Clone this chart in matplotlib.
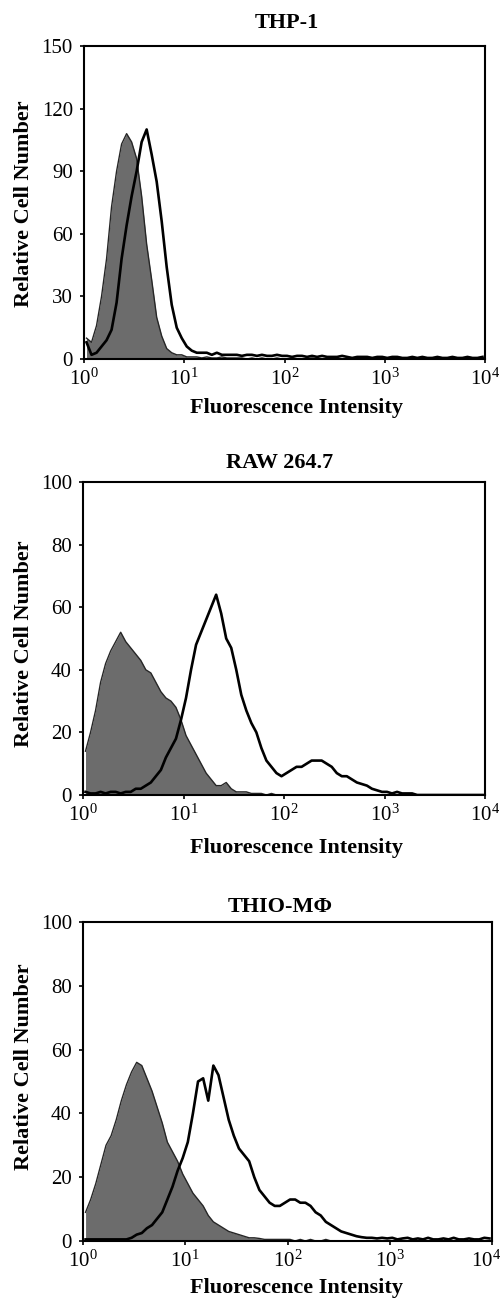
# Flow cytometry histograms: isotype control (grey fill) vs stained (black line)

import numpy as np
import matplotlib.pyplot as plt
from matplotlib.transforms import ScaledTranslation

plt.rcParams['font.family'] = ['Liberation Serif', 'DejaVu Serif']
plt.rcParams['mathtext.fontset'] = 'custom'
plt.rcParams['mathtext.rm'] = 'Liberation Serif'

# channel grid: 80 bins of 0.05 decade from 10^0 to 10^4
log_edges = np.linspace(0, 4, 81)
centers = 10 ** (log_edges[:-1] + 0.025)

# THP-1
thp1_ctrl = [10, 8, 16, 30, 48, 73, 90, 103, 108, 104,
             96, 78, 55, 38, 20, 11, 5, 3, 2, 2,
             1, 1, 1, 0.5, 1, 0.5, 0.5, 1, 0.5, 0.5,
             0.5, 0.5, 0, 0.5, 0, 0.5, 0, 0, 0.5, 0,
             0, 0.5, 0, 0, 0, 0.5, 0, 0, 0, 0,
             0, 0, 0, 0, 0, 0, 0, 0, 0, 0,
             0, 0, 0, 0, 0, 0, 0, 0, 0, 0,
             0, 0, 0, 0, 0, 0, 0, 0, 0, 0]
thp1_stain = [8, 2, 3, 6, 9, 14, 27, 48, 64, 78,
              90, 104, 110, 98, 85, 66, 44, 26, 15, 10,
              6, 4, 3, 3, 3, 2, 3, 2, 2, 2,
              2, 1.5, 2, 2, 1.5, 2, 1.5, 1.5, 2, 1.5,
              1.5, 1, 1.5, 1.5, 1, 1.5, 1, 1.5, 1, 1,
              1, 1.5, 1, 0.5, 1, 1, 1, 0.5, 1, 1,
              0.5, 1, 1, 0.5, 0.5, 1, 0.5, 1, 0.5, 0.5,
              1, 0.5, 0.5, 1, 0.5, 0.5, 1, 0.5, 0.5, 1]

# RAW 264.7
raw_ctrl = [14, 20, 27, 36, 42, 46, 49, 52, 49, 47,
            45, 43, 40, 39, 36, 33, 31, 30, 28, 24,
            19, 16, 13, 10, 7, 5, 3, 3, 4, 2,
            1, 1, 1, 0.5, 0.5, 0.5, 0, 0.5, 0, 0,
            0, 0, 0, 0, 0, 0, 0, 0, 0, 0,
            0, 0, 0, 0, 0, 0, 0, 0, 0, 0,
            0, 0, 0, 0, 0, 0, 0, 0, 0, 0,
            0, 0, 0, 0, 0, 0, 0, 0, 0, 0]
raw_stain = [1, 0.5, 0.5, 1, 0.5, 1, 1, 0.5, 1, 1,
             2, 2, 3, 4, 6, 8, 12, 15, 18, 24,
             31, 40, 48, 52, 56, 60, 64, 58, 50, 47,
             40, 32, 27, 23, 20, 15, 11, 9, 7, 6,
             7, 8, 9, 9, 10, 11, 11, 11, 10, 9,
             7, 6, 6, 5, 4, 3.5, 3, 2, 1.5, 1,
             1, 0.5, 1, 0.5, 0.5, 0.5, 0, 0, 0, 0,
             0, 0, 0, 0, 0, 0, 0, 0, 0, 0]

# THIO-MΦ
thio_ctrl = [9, 13, 18, 24, 30, 33, 38, 44, 49, 53,
             56, 55, 51, 47, 42, 37, 31, 28, 25, 21,
             18, 15, 13, 11, 8, 6, 5, 4, 3, 2.5,
             2, 1.5, 1, 1, 0.8, 0.5, 0.5, 0.5, 0.5, 0.5,
             0.5, 0, 0.5, 0, 0.5, 0, 0, 0.5, 0, 0,
             0, 0, 0, 0, 0, 0, 0, 0, 0, 0,
             0, 0, 0, 0, 0, 0, 0, 0, 0, 0,
             0, 0, 0, 0, 0, 0, 0, 0, 0, 0]
thio_stain = [0.5, 0.5, 0.5, 0.5, 0.5, 0.5, 0.5, 0.5, 0.5, 1,
              2, 2.5, 4, 5, 7, 9, 13, 17, 22, 26,
              31, 40, 50, 51, 44, 55, 52, 45, 38, 33,
              29, 27, 25, 20, 16, 14, 12, 11, 11, 12,
              13, 13, 12, 12, 11, 9, 8, 6, 5, 4,
              3, 2.5, 2, 1.5, 1.2, 1, 1, 0.8, 1, 0.8,
              1, 0.5, 0.8, 1, 0.5, 0.8, 0.5, 1, 0.5, 0.5,
              0.8, 0.5, 1, 0.5, 0.5, 0.8, 0.5, 0.5, 1, 0.8]

titles = ['THP-1', 'RAW 264.7', 'THIO-M\u03a6']
y_max = [150, 100, 100]
y_ticks = [[0, 30, 60, 90, 120, 150], [0, 20, 40, 60, 80, 100], [0, 20, 40, 60, 80, 100]]
x_ticks = [1, 10, 100, 1000, 10000]
x_ticklabels = [r'$\mathregular{10^{%d}}$' % i for i in range(5)]

W, H = 504, 1300
# axes boxes in pixels: left, top, right, bottom
boxes = [(84, 46, 485, 359), (83, 482, 485, 795), (83, 922, 492, 1241)]
title_pos = [(287, 23), (280, 463), (280, 907)]
xlabel_pos = [(296, 408), (297, 848), (297, 1288)]
ylabel_pos = [(24, 204), (24, 644), (24, 1067)]

fig = plt.figure(figsize=(W / 100, H / 100), dpi=100)

data = [(thp1_ctrl, thp1_stain), (raw_ctrl, raw_stain), (thio_ctrl, thio_stain)]
for i, (ctrl, stain) in enumerate(data):
    l, t, r, b = boxes[i]
    ax = fig.add_axes([l / W, 1 - b / H, (r - l) / W, (b - t) / H])
    ax.fill_between(centers, ctrl, 0, color='#6c6c6c', lw=0)
    ax.plot(centers, ctrl, color='#262626', lw=1.0)
    ax.plot(centers, stain, color='black', lw=1.9)
    ax.set_xscale('log')
    ax.set_xlim(1, 10000)
    ax.set_ylim(0, y_max[i])
    ax.set_xticks(x_ticks)
    ax.set_xticklabels(x_ticklabels)
    ax.xaxis.set_minor_locator(plt.NullLocator())
    ax.set_yticks(y_ticks[i])
    ax.tick_params(direction='out', length=3, width=1.2, labelsize=15, pad=5)
    ax.tick_params(axis='x', pad=4)
    for s in ax.spines.values():
        s.set_linewidth(1.5)

    # keep the 10^4 label inside the figure edge
    last = ax.get_xticklabels()[-1]
    if r > 488:
        last.set_transform(last.get_transform() + ScaledTranslation(-6 / 100, 0, fig.dpi_scale_trans))

    fig.text(title_pos[i][0] / W, 1 - title_pos[i][1] / H, titles[i],
             ha='center', va='center', fontsize=16, fontweight='bold')
    fig.text(xlabel_pos[i][0] / W, 1 - xlabel_pos[i][1] / H, 'Fluorescence Intensity',
             ha='center', va='center', fontsize=16, fontweight='bold')
    fig.text(ylabel_pos[i][0] / W, 1 - ylabel_pos[i][1] / H, 'Relative Cell Number',
             ha='center', va='center', rotation=90, fontsize=16, fontweight='bold')

plt.savefig('out.png', dpi=100)
